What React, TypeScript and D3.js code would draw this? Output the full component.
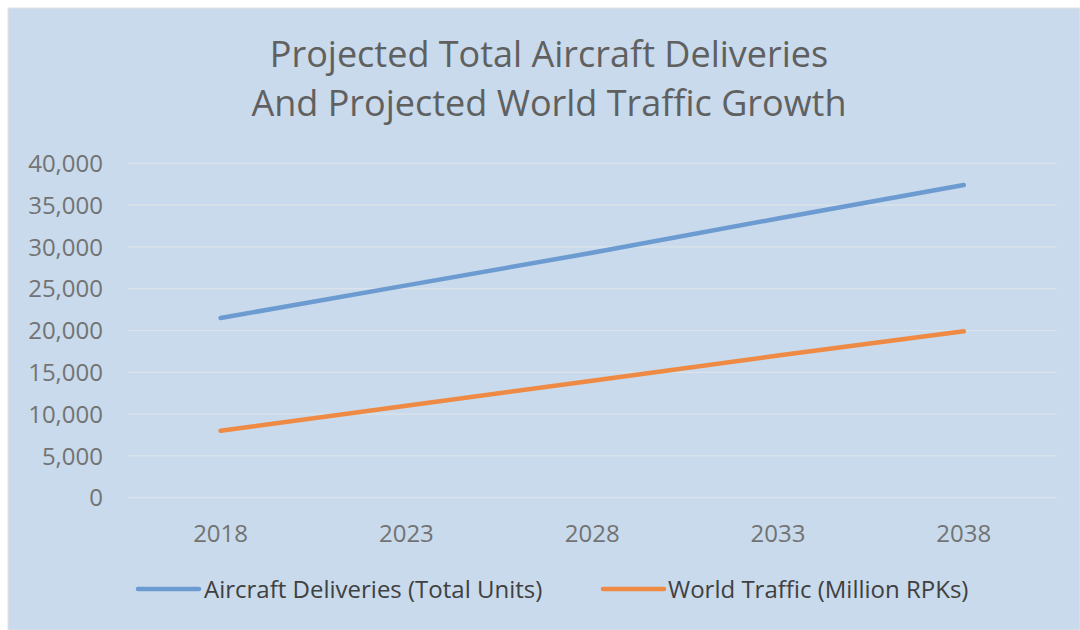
import React from "react";
import * as d3 from "d3";

const years = ["2018", "2023", "2028", "2033", "2038"];
const aircraftDeliveries = [21500, 25400, 29300, 33400, 37400];
const worldTraffic = [8000, 11000, 14000, 17000, 19900];
const yTicks = [0, 5000, 10000, 15000, 20000, 25000, 30000, 35000, 40000];
const titleLines = ["Projected Total Aircraft Deliveries", "And Projected World Traffic Growth"];
const seriesNames = ["Aircraft Deliveries (Total Units)", "World Traffic (Million RPKs)"];
const seriesColors = ["#6b9bd1", "#ee8a43"];

const W = 1080;
const H = 630;
const FONT = "'Open Sans', 'Noto Sans', sans-serif";

export default function App() {
  const x = d3.scalePoint<string>().domain(years).range([127.7, 1056.7]).padding(0.5);
  const y = d3.scaleLinear().domain([0, 40000]).range([497.7, 163.3]);
  const line = d3
    .line<number>()
    .x((_, i) => x(years[i]) as number)
    .y((d) => y(d));
  const fmt = d3.format(",");
  const series = [aircraftDeliveries, worldTraffic];

  return (
    <svg
      width={W}
      height={H}
      style={{ position: "absolute", left: 0, top: 0, display: "block" }}
    >
      <rect x={0} y={0} width={W} height={H} fill="#ffffff" />
      <rect x={8} y={8} width={W - 8} height={H - 8} fill="#c8daeb" stroke="#e4e4e4" strokeWidth={1} />
      {titleLines.map((t, i) => (
        <text
          key={t}
          x={549}
          y={67 + i * 49}
          textAnchor="middle"
          fontFamily={FONT}
          fontSize={36}
          fill="#606060"
        >
          {t}
        </text>
      ))}
      {yTicks.map((t) => (
        <g key={t}>
          <line x1={127.7} x2={1056.7} y1={y(t)} y2={y(t)} stroke="#dde3ea" strokeWidth={1.2} />
          <text
            x={103}
            y={y(t)}
            dy="0.36em"
            textAnchor="end"
            fontFamily={FONT}
            fontSize={24}
            fill="#737373"
          >
            {fmt(t)}
          </text>
        </g>
      ))}
      {years.map((yr) => (
        <text
          key={yr}
          x={x(yr) as number}
          y={533}
          dy="0.36em"
          textAnchor="middle"
          fontFamily={FONT}
          fontSize={24}
          fill="#737373"
        >
          {yr}
        </text>
      ))}
      {series.map((s, i) => (
        <path
          key={i}
          d={line(s) || ""}
          fill="none"
          stroke={seriesColors[i]}
          strokeWidth={4.5}
          strokeLinecap="round"
          strokeLinejoin="round"
        />
      ))}
      {[
        { x1: 138, x2: 199, tx: 204 },
        { x1: 603, x2: 664, tx: 668 },
      ].map((l, i) => (
        <g key={i}>
          <line x1={l.x1} x2={l.x2} y1={589} y2={589} stroke={seriesColors[i]} strokeWidth={4.5} strokeLinecap="round" />
          <text
            x={l.tx}
            y={589}
            dy="0.36em"
            fontFamily={FONT}
            fontSize={24}
            fill="#404040"
          >
            {seriesNames[i]}
          </text>
        </g>
      ))}
    </svg>
  );
}
